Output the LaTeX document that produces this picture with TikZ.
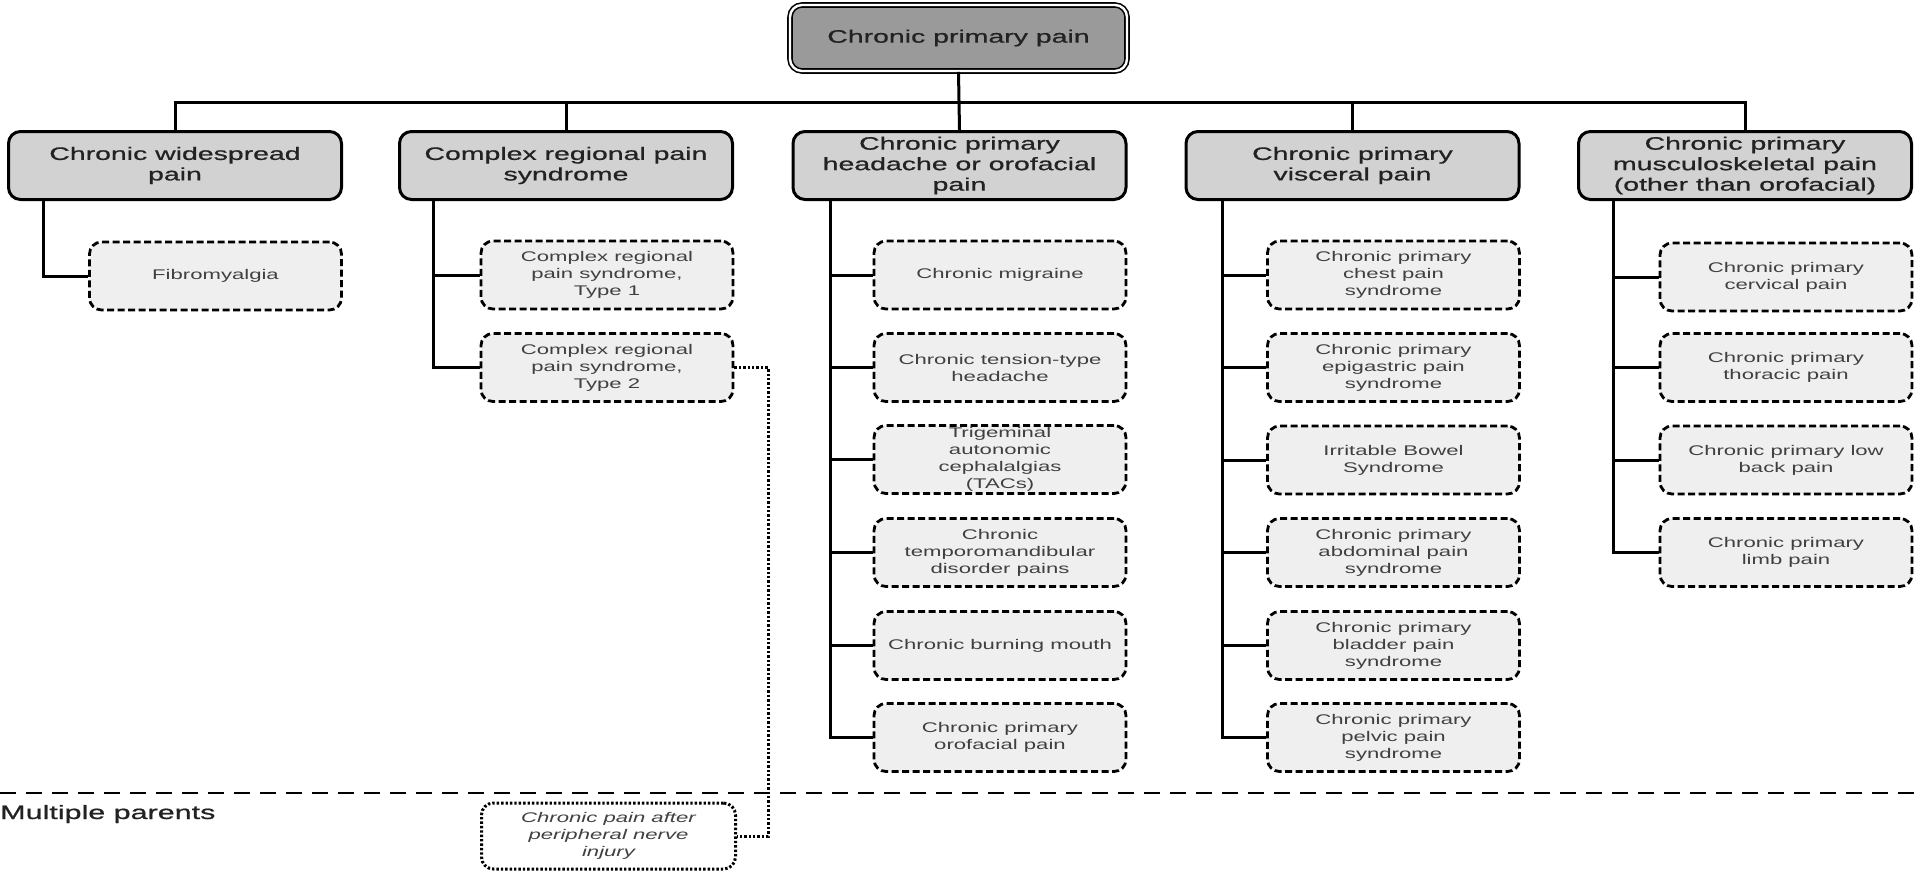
\documentclass[tikz,border=0pt]{standalone}
\usepackage{fontspec}
\setmainfont{Liberation Sans}[FakeStretch=1.58]
\newfontfamily\catfont{Liberation Sans}[FakeStretch=1.58,FakeBold=0.8]
\definecolor{rootfill}{HTML}{9A9A9A}
\definecolor{catfill}{HTML}{D2D2D2}
\definecolor{subfill}{HTML}{EFEFEF}
\definecolor{cattext}{HTML}{222222}
\definecolor{subtext}{HTML}{404040}
\begin{document}
\begin{tikzpicture}[x=1pt,y=-1pt,
  rootbox/.style={draw=black, line width=1.6pt, double=white, double distance=2.4pt,
    fill=rootfill, rounded corners=12pt, minimum width=337pt, minimum height=66pt,
    inner sep=0pt, align=center, text=cattext, font=\catfont\fontsize{18}{20.5}\selectfont},
  catbox/.style={draw=black, line width=3pt, fill=catfill, rounded corners=12pt,
    minimum width=333pt, minimum height=68pt, inner sep=0pt, align=center,
    text=cattext, font=\catfont\fontsize{18}{20.5}\selectfont},
  subbox/.style={draw=black, line width=2.8pt, dash pattern=on 7pt off 3.5pt,
    fill=subfill, rounded corners=12pt, minimum width=252pt, minimum height=68pt,
    inner sep=0pt, align=center, text=subtext, font=\fontsize{14}{17}\selectfont},
  dotbox/.style={draw=black, line width=3pt, dash pattern=on 2.4pt off 2pt,
    fill=white, rounded corners=12pt, minimum width=254pt, minimum height=66pt,
    inner sep=0pt, align=center, text=subtext, font=\fontsize{14}{17}\selectfont\itshape},
  conn/.style={draw=black, line width=3pt},
  dotconn/.style={draw=black, line width=3pt, dash pattern=on 2.4pt off 2pt},
  sepline/.style={draw=black, line width=2.4pt, dash pattern=on 16pt off 10pt},
  plain/.style={inner sep=0pt, text=cattext, font=\catfont\fontsize{19.3}{22}\selectfont}
]
\useasboundingbox (0,0) rectangle (1920,875);

% root
\node[rootbox] (root) at (958.5,38) {Chronic primary pain};

% level 1
\node[catbox] (ca) at (175,165.5) {Chronic widespread\\pain};
\node[catbox] (cb) at (566,165.5) {Complex regional pain\\syndrome};
\node[catbox] (cc) at (959.5,165.5) {Chronic primary\\headache or orofacial\\pain};
\node[catbox] (cd) at (1352.5,165.5) {Chronic primary\\visceral pain};
\node[catbox] (ce) at (1745,165.5) {Chronic primary\\musculoskeletal pain\\(other than orofacial)};

% bar
\coordinate (bar) at (959,102);
\draw[conn] (root.south) -- (cc.north);
\draw[conn] (ca.north) |- (ce.north |- bar) -- (ce.north);
\draw[conn] (cb.north) -- (cb.north |- bar);
\draw[conn] (cd.north) -- (cd.north |- bar);

% trunk x positions
\coordinate (ta) at (43,0);
\coordinate (tb) at (433,0);
\coordinate (tc) at (830,0);
\coordinate (td) at (1222,0);
\coordinate (te) at (1613,0);

% column a
\node[subbox] (a1) at (215.5,276) {Fibromyalgia};
\draw[conn] (ca.south -| ta) |- (a1.west);

% column b
\node[subbox] (b1) at (607,275) {Complex regional\\pain syndrome,\\Type 1};
\node[subbox] (b2) at (607,367.5) {Complex regional\\pain syndrome,\\Type 2};
\draw[conn] (cb.south -| tb) |- (b2.west);
\draw[conn] (tb |- b1.west) -- (b1.west);

% column c
\node[subbox] (c1) at (1000,275) {Chronic migraine};
\node[subbox] (c2) at (1000,367.5) {Chronic tension-type\\headache};
\node[subbox] (c3) at (1000,459.5) {Trigeminal\\autonomic\\cephalalgias\\(TACs)};
\node[subbox] (c4) at (1000,552.5) {Chronic\\temporomandibular\\disorder pains};
\node[subbox] (c5) at (1000,645.5) {Chronic burning mouth};
\node[subbox] (c6) at (1000,737.5) {Chronic primary\\orofacial pain};
\draw[conn] (cc.south -| tc) |- (c6.west);
\foreach \n in {c1,c2,c3,c4,c5} \draw[conn] (tc |- \n.west) -- (\n.west);

% column d
\node[subbox] (d1) at (1393.5,275) {Chronic primary\\chest pain\\syndrome};
\node[subbox] (d2) at (1393.5,367.5) {Chronic primary\\epigastric pain\\syndrome};
\node[subbox] (d3) at (1393.5,460) {Irritable Bowel\\Syndrome};
\node[subbox] (d4) at (1393.5,552.5) {Chronic primary\\abdominal pain\\syndrome};
\node[subbox] (d5) at (1393.5,645.5) {Chronic primary\\bladder pain\\syndrome};
\node[subbox] (d6) at (1393.5,737.5) {Chronic primary\\pelvic pain\\syndrome};
\draw[conn] (cd.south -| td) |- (d6.west);
\foreach \n in {d1,d2,d3,d4,d5} \draw[conn] (td |- \n.west) -- (\n.west);

% column e
\node[subbox] (e1) at (1786,277) {Chronic primary\\cervical pain};
\node[subbox] (e2) at (1786,367.5) {Chronic primary\\thoracic pain};
\node[subbox] (e3) at (1786,460) {Chronic primary low\\back pain};
\node[subbox] (e4) at (1786,552.5) {Chronic primary\\limb pain};
\draw[conn] (ce.south -| te) |- (e4.west);
\foreach \n in {e1,e2,e3} \draw[conn] (te |- \n.west) -- (\n.west);

% multiple parents
\coordinate (sepL) at (0,793);
\coordinate (sepR) at (1920,793);
\draw[sepline] (sepL) -- (sepR);
\node[plain, anchor=base west] (mplabel) at (0,819) {Multiple parents};
\node[dotbox] (mp) at (608.5,836) {Chronic pain after\\peripheral nerve\\injury};
\coordinate (dotturn) at (768,0);
\draw[dotconn] (b2.east) -- (b2.east -| dotturn) |- (mp.east);
\end{tikzpicture}
\end{document}
